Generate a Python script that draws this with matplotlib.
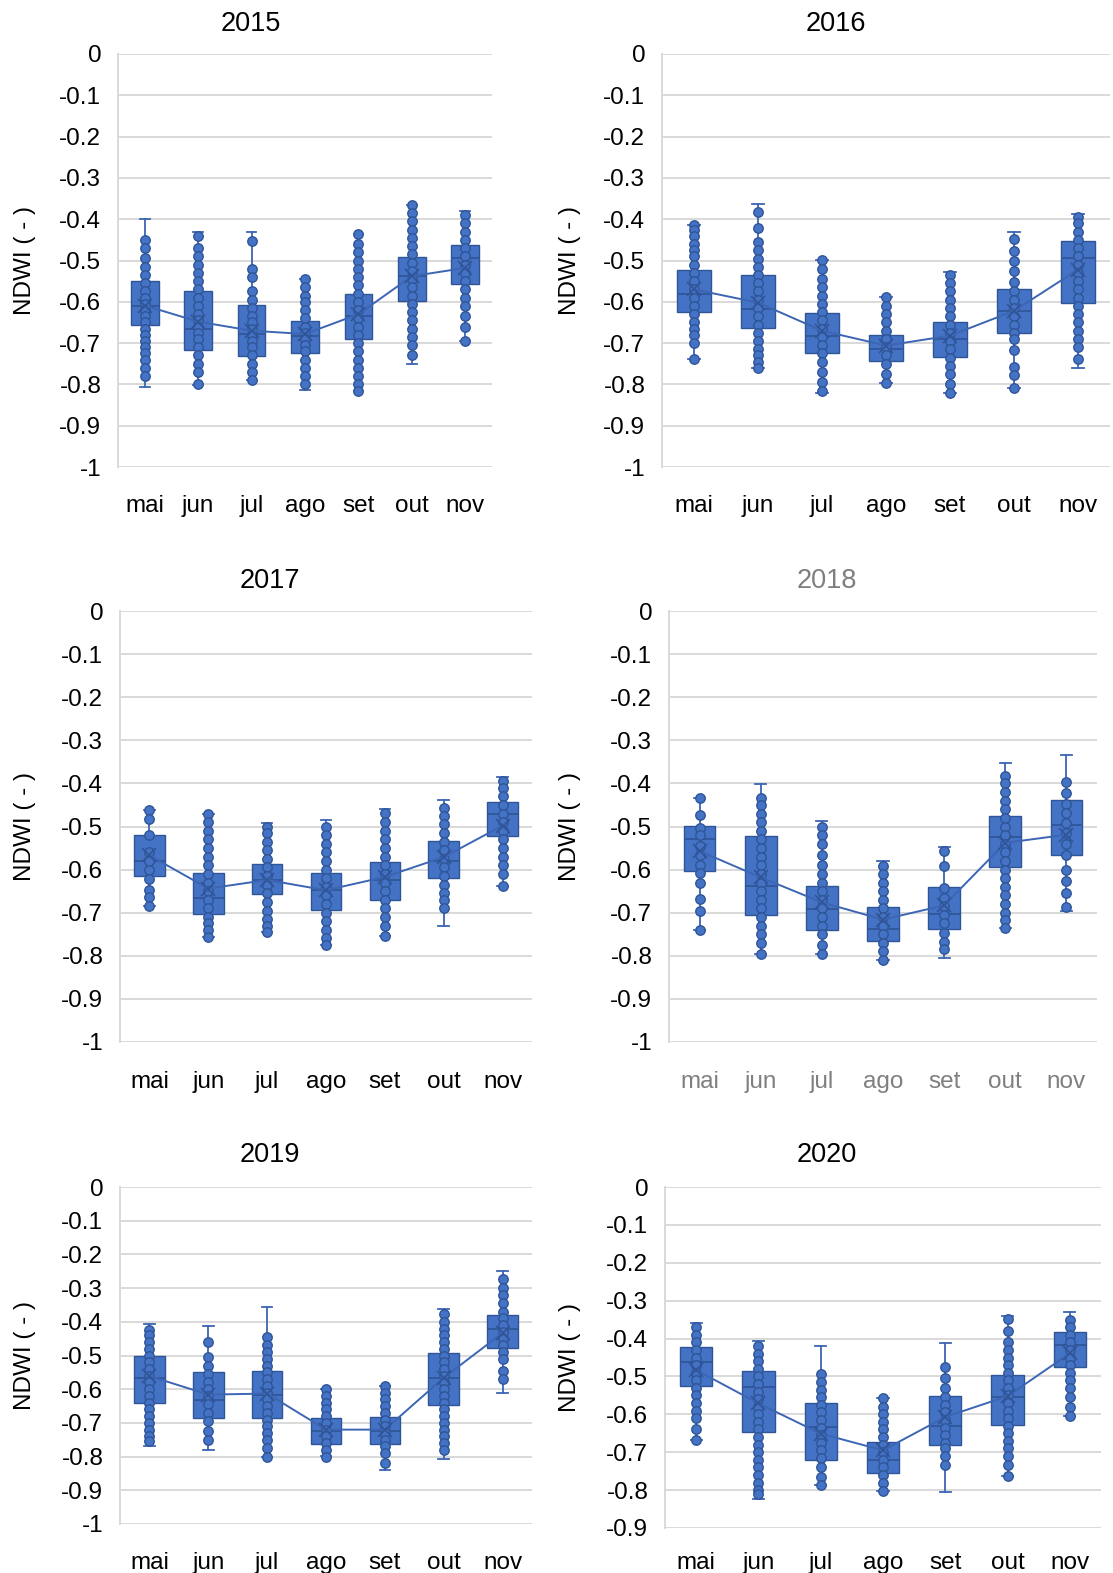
import matplotlib
matplotlib.use("Agg")
import matplotlib.pyplot as plt
from matplotlib.ticker import MultipleLocator, FuncFormatter

plt.rcParams['font.family'] = ['Liberation Sans', 'DejaVu Sans']

# ---------------------------------------------------------------------------
# Data: monthly NDWI box statistics per year
# ---------------------------------------------------------------------------
MONTHS = ['mai', 'jun', 'jul', 'ago', 'set', 'out', 'nov']
YEARS = [2015, 2016, 2017, 2018, 2019, 2020]

Q3 = {
    2015: [-0.550, -0.574, -0.607, -0.647, -0.581, -0.491, -0.462],
    2016: [-0.522, -0.535, -0.628, -0.680, -0.648, -0.568, -0.452],
    2017: [-0.519, -0.608, -0.587, -0.607, -0.583, -0.534, -0.444],
    2018: [-0.499, -0.523, -0.637, -0.687, -0.640, -0.475, -0.438],
    2019: [-0.500, -0.549, -0.546, -0.686, -0.683, -0.492, -0.380],
    2020: [-0.423, -0.485, -0.571, -0.673, -0.552, -0.496, -0.384],
}
Q1 = {
    2015: [-0.656, -0.717, -0.731, -0.724, -0.689, -0.597, -0.558],
    2016: [-0.624, -0.664, -0.725, -0.744, -0.734, -0.676, -0.602],
    2017: [-0.614, -0.702, -0.657, -0.694, -0.671, -0.619, -0.523],
    2018: [-0.603, -0.705, -0.739, -0.765, -0.738, -0.594, -0.565],
    2019: [-0.641, -0.685, -0.685, -0.762, -0.762, -0.648, -0.477],
    2020: [-0.525, -0.646, -0.721, -0.755, -0.680, -0.627, -0.476],
}
MEDIAN = {
    2015: [-0.610, -0.666, -0.678, -0.682, -0.634, -0.538, -0.494],
    2016: [-0.580, -0.618, -0.684, -0.714, -0.690, -0.622, -0.494],
    2017: [-0.579, -0.667, -0.625, -0.647, -0.624, -0.579, -0.471],
    2018: [-0.530, -0.637, -0.691, -0.737, -0.703, -0.525, -0.497],
    2019: [-0.566, -0.633, -0.616, -0.725, -0.725, -0.566, -0.420],
    2020: [-0.463, -0.529, -0.633, -0.721, -0.631, -0.554, -0.417],
}
MEAN = {
    2015: [-0.609, -0.648, -0.670, -0.678, -0.630, -0.538, -0.518],
    2016: [-0.570, -0.602, -0.670, -0.706, -0.682, -0.622, -0.522],
    2017: [-0.567, -0.644, -0.624, -0.648, -0.617, -0.571, -0.498],
    2018: [-0.557, -0.618, -0.676, -0.716, -0.683, -0.538, -0.519],
    2019: [-0.561, -0.616, -0.613, -0.720, -0.720, -0.566, -0.433],
    2020: [-0.483, -0.571, -0.651, -0.695, -0.607, -0.552, -0.439],
}
WHISK_HI = {
    2015: [-0.400, -0.430, -0.430, -0.546, -0.436, -0.366, -0.381],
    2016: [-0.414, -0.362, -0.498, -0.588, -0.528, -0.432, -0.387],
    2017: [-0.461, -0.472, -0.492, -0.486, -0.459, -0.438, -0.385],
    2018: [-0.434, -0.402, -0.488, -0.580, -0.548, -0.352, -0.335],
    2019: [-0.408, -0.411, -0.356, -0.600, -0.590, -0.361, -0.250],
    2020: [-0.358, -0.406, -0.420, -0.558, -0.411, -0.340, -0.329],
}
WHISK_LO = {
    2015: [-0.806, -0.802, -0.790, -0.814, -0.815, -0.750, -0.696],
    2016: [-0.738, -0.760, -0.822, -0.796, -0.821, -0.808, -0.760],
    2017: [-0.685, -0.756, -0.745, -0.775, -0.755, -0.731, -0.637],
    2018: [-0.741, -0.795, -0.795, -0.810, -0.804, -0.735, -0.696],
    2019: [-0.770, -0.779, -0.801, -0.799, -0.840, -0.807, -0.611],
    2020: [-0.668, -0.823, -0.786, -0.803, -0.805, -0.764, -0.605],
}

# individual observations shown inside each box
POINTS = {
    2015: [
        [-0.45, -0.47, -0.495, -0.515, -0.535, -0.555, -0.575, -0.59, -0.605, -0.62, -0.635,
         -0.65, -0.665, -0.68, -0.695, -0.71, -0.725, -0.74, -0.76, -0.78],
        [-0.44, -0.47, -0.49, -0.51, -0.53, -0.55, -0.57, -0.59, -0.61, -0.63, -0.645, -0.66,
         -0.675, -0.69, -0.71, -0.73, -0.75, -0.77, -0.80],
        [-0.452, -0.52, -0.54, -0.575, -0.595, -0.615, -0.635, -0.65, -0.665, -0.68, -0.695,
         -0.71, -0.73, -0.75, -0.77, -0.79],
        [-0.546, -0.565, -0.585, -0.60, -0.62, -0.64, -0.66, -0.675, -0.69, -0.705, -0.72,
         -0.74, -0.76, -0.78, -0.80],
        [-0.436, -0.46, -0.48, -0.50, -0.52, -0.54, -0.56, -0.58, -0.60, -0.62, -0.64, -0.66,
         -0.68, -0.70, -0.72, -0.74, -0.76, -0.78, -0.80, -0.815],
        [-0.366, -0.385, -0.405, -0.425, -0.445, -0.465, -0.485, -0.505, -0.525, -0.545,
         -0.565, -0.585, -0.605, -0.625, -0.645, -0.665, -0.685, -0.705, -0.73],
        [-0.39, -0.41, -0.43, -0.45, -0.47, -0.49, -0.51, -0.53, -0.55, -0.57, -0.59, -0.61,
         -0.635, -0.66, -0.696],
    ],
    2016: [
        [-0.414, -0.425, -0.44, -0.46, -0.475, -0.49, -0.51, -0.53, -0.55, -0.57, -0.59, -0.61,
         -0.63, -0.65, -0.665, -0.68, -0.70, -0.738],
        [-0.383, -0.422, -0.454, -0.475, -0.497, -0.515, -0.535, -0.555, -0.575, -0.595,
         -0.615, -0.635, -0.655, -0.675, -0.695, -0.715, -0.73, -0.745, -0.76],
        [-0.498, -0.52, -0.545, -0.565, -0.585, -0.605, -0.625, -0.645, -0.665, -0.685,
         -0.705, -0.725, -0.745, -0.77, -0.795, -0.815],
        [-0.588, -0.61, -0.63, -0.65, -0.67, -0.69, -0.71, -0.73, -0.75, -0.775, -0.796],
        [-0.535, -0.555, -0.575, -0.595, -0.615, -0.635, -0.655, -0.675, -0.695, -0.715,
         -0.735, -0.755, -0.775, -0.80, -0.82],
        [-0.448, -0.478, -0.50, -0.525, -0.552, -0.575, -0.595, -0.615, -0.635, -0.655,
         -0.675, -0.69, -0.716, -0.758, -0.778, -0.808],
        [-0.394, -0.41, -0.43, -0.45, -0.47, -0.49, -0.51, -0.53, -0.55, -0.57, -0.59, -0.61,
         -0.63, -0.65, -0.67, -0.69, -0.71, -0.738],
    ],
    2017: [
        [-0.461, -0.482, -0.52, -0.56, -0.579, -0.60, -0.621, -0.647, -0.664, -0.685],
        [-0.472, -0.49, -0.51, -0.53, -0.55, -0.57, -0.59, -0.61, -0.63, -0.65, -0.67, -0.69,
         -0.71, -0.725, -0.74, -0.756],
        [-0.50, -0.515, -0.535, -0.555, -0.575, -0.595, -0.615, -0.635, -0.655, -0.675,
         -0.695, -0.715, -0.73, -0.745],
        [-0.502, -0.52, -0.54, -0.56, -0.58, -0.60, -0.62, -0.64, -0.66, -0.68, -0.70, -0.72,
         -0.74, -0.758, -0.775],
        [-0.469, -0.49, -0.51, -0.53, -0.55, -0.57, -0.59, -0.61, -0.63, -0.65, -0.67, -0.69,
         -0.71, -0.73, -0.755],
        [-0.457, -0.475, -0.495, -0.515, -0.535, -0.555, -0.575, -0.595, -0.615, -0.635,
         -0.655, -0.67, -0.69],
        [-0.394, -0.41, -0.43, -0.45, -0.47, -0.49, -0.51, -0.53, -0.55, -0.57, -0.59, -0.61,
         -0.637],
    ],
    2018: [
        [-0.434, -0.474, -0.503, -0.52, -0.545, -0.565, -0.59, -0.607, -0.632, -0.668, -0.696,
         -0.741],
        [-0.434, -0.45, -0.47, -0.49, -0.51, -0.53, -0.55, -0.57, -0.59, -0.61, -0.63, -0.65,
         -0.67, -0.69, -0.71, -0.73, -0.75, -0.77, -0.795],
        [-0.502, -0.52, -0.54, -0.565, -0.59, -0.61, -0.63, -0.65, -0.67, -0.69, -0.71, -0.73,
         -0.75, -0.775, -0.795],
        [-0.591, -0.61, -0.63, -0.65, -0.67, -0.69, -0.71, -0.73, -0.75, -0.77, -0.79, -0.81],
        [-0.557, -0.591, -0.643, -0.665, -0.685, -0.705, -0.725, -0.748, -0.768, -0.785],
        [-0.382, -0.40, -0.42, -0.44, -0.46, -0.48, -0.50, -0.52, -0.54, -0.56, -0.58, -0.60,
         -0.62, -0.64, -0.66, -0.68, -0.70, -0.718, -0.735],
        [-0.396, -0.423, -0.448, -0.469, -0.492, -0.515, -0.54, -0.565, -0.601, -0.626,
         -0.655, -0.687],
    ],
    2019: [
        [-0.423, -0.44, -0.46, -0.48, -0.50, -0.52, -0.54, -0.56, -0.58, -0.60, -0.62, -0.64,
         -0.66, -0.68, -0.70, -0.72, -0.74, -0.755],
        [-0.459, -0.504, -0.53, -0.555, -0.58, -0.60, -0.62, -0.645, -0.67, -0.695, -0.725,
         -0.75],
        [-0.445, -0.47, -0.49, -0.51, -0.53, -0.55, -0.57, -0.59, -0.61, -0.63, -0.65, -0.67,
         -0.69, -0.71, -0.73, -0.75, -0.775, -0.80],
        [-0.60, -0.62, -0.64, -0.66, -0.68, -0.70, -0.72, -0.74, -0.76, -0.78, -0.80],
        [-0.59, -0.61, -0.63, -0.65, -0.67, -0.69, -0.71, -0.73, -0.75, -0.77, -0.79, -0.82],
        [-0.378, -0.40, -0.42, -0.44, -0.46, -0.48, -0.50, -0.52, -0.54, -0.56, -0.58, -0.60,
         -0.62, -0.64, -0.66, -0.68, -0.70, -0.72, -0.74, -0.76, -0.78],
        [-0.274, -0.30, -0.32, -0.345, -0.37, -0.39, -0.41, -0.43, -0.45, -0.47, -0.49, -0.51,
         -0.545, -0.571],
    ],
    2020: [
        [-0.369, -0.39, -0.41, -0.43, -0.45, -0.47, -0.49, -0.51, -0.53, -0.55, -0.57, -0.59,
         -0.61, -0.64, -0.668],
        [-0.42, -0.44, -0.46, -0.48, -0.50, -0.52, -0.54, -0.56, -0.58, -0.60, -0.62, -0.64,
         -0.66, -0.68, -0.70, -0.72, -0.74, -0.76, -0.78, -0.80, -0.81],
        [-0.494, -0.515, -0.535, -0.555, -0.575, -0.595, -0.615, -0.635, -0.655, -0.675,
         -0.695, -0.715, -0.74, -0.765, -0.786],
        [-0.558, -0.58, -0.60, -0.62, -0.64, -0.66, -0.68, -0.70, -0.72, -0.74, -0.76, -0.78,
         -0.803],
        [-0.474, -0.505, -0.53, -0.555, -0.575, -0.595, -0.615, -0.635, -0.655, -0.675,
         -0.69, -0.71, -0.735],
        [-0.348, -0.38, -0.41, -0.43, -0.45, -0.47, -0.49, -0.51, -0.53, -0.55, -0.57, -0.59,
         -0.61, -0.63, -0.65, -0.67, -0.69, -0.71, -0.735, -0.764],
        [-0.351, -0.37, -0.39, -0.41, -0.43, -0.45, -0.47, -0.49, -0.51, -0.53, -0.555, -0.58,
         -0.605],
    ],
}

# ---------------------------------------------------------------------------
# Layout (pixel coordinates on a 1113 x 1573 canvas)
# year: (left, top, right, bottom), y-min, title xy, ylabel x, x-tick pad
# ---------------------------------------------------------------------------
W, H = 1113, 1573
LAYOUT = {
    2015: ((118, 54, 492, 467), -1.0, (251, 24), 25, 20),
    2016: ((662, 54, 1110, 467), -1.0, (836, 24), 570, 20),
    2017: ((120, 611, 532, 1042), -1.0, (270, 581), 25, 21),
    2018: ((669, 611, 1097, 1042), -1.0, (827, 581), 570, 21),
    2019: ((120, 1187, 532, 1524), -1.0, (270, 1155), 25, 20),
    2020: ((665, 1187, 1101, 1528), -0.9, (827, 1155), 570, 17),
}

BLUE = '#4472C4'
EDGE = '#2F5597'
LINE = '#3C65B3'
GRID = '#D9D9D9'
GREY = '#7F7F7F'
FS = 17.5


def tick_fmt(v, pos):
    v = round(v, 1)
    return '0' if v == 0 else f"{v:g}"


fig = plt.figure(figsize=(W / 100, H / 100), dpi=100)

for year in YEARS:
    (l, t, r, b), ymin, (tx, ty), ylx, xpad = LAYOUT[year]
    # the 2018 chart has its title and month labels in grey
    accent = GREY if year == 2018 else 'black'
    ax = fig.add_axes([l / W, 1 - b / H, (r - l) / W, (b - t) / H])

    stats = []
    for i in range(len(MONTHS)):
        stats.append(dict(med=MEDIAN[year][i], q1=Q1[year][i], q3=Q3[year][i],
                          whislo=WHISK_LO[year][i], whishi=WHISK_HI[year][i],
                          mean=MEAN[year][i], fliers=[]))
    pos = list(range(len(MONTHS)))
    ax.bxp(stats, positions=pos, widths=0.52, patch_artist=True,
           showfliers=False, showmeans=False, capwidths=0.18,
           boxprops=dict(facecolor=BLUE, edgecolor=EDGE, linewidth=1.0),
           medianprops=dict(color=EDGE, linewidth=1.2),
           whiskerprops=dict(color=LINE, linewidth=1.3),
           capprops=dict(color=LINE, linewidth=1.3))

    for i, pts in enumerate(POINTS[year]):
        ax.plot([i] * len(pts), pts, 'o', ms=6.8, mfc=BLUE, mec=EDGE, mew=1.0,
                zorder=3, clip_on=False)

    ax.plot(pos, MEAN[year], color=LINE, lw=1.4, zorder=4)
    ax.plot(pos, MEAN[year], 'x', ms=10, color=EDGE, mew=1.2, zorder=4)

    ax.set_xlim(-0.5, len(MONTHS) - 0.5)
    ax.set_ylim(ymin, 0)
    ax.yaxis.set_major_locator(MultipleLocator(0.1))
    ax.yaxis.set_major_formatter(FuncFormatter(tick_fmt))
    ax.grid(axis='y', color=GRID, linewidth=1.4)
    ax.set_axisbelow(True)
    for s in ('top', 'right', 'bottom'):
        ax.spines[s].set_visible(False)
    ax.spines['left'].set_color(GRID)
    ax.spines['left'].set_linewidth(1.4)

    ax.set_xticks(pos)
    ax.set_xticklabels(MONTHS)
    ax.tick_params(axis='both', length=0, labelsize=FS)
    ax.tick_params(axis='y', pad=12, labelcolor='black')
    ax.tick_params(axis='x', pad=xpad, labelcolor=accent)

    fig.text(tx / W, 1 - ty / H, str(year), ha='center', va='center',
             fontsize=19.5, color=accent)
    fig.text(ylx / W, 1 - (t + b) / 2 / H, 'NDWI ( - )', rotation=90,
             ha='center', va='center', fontsize=FS, color='black')

fig.savefig('out.png', dpi=100)
